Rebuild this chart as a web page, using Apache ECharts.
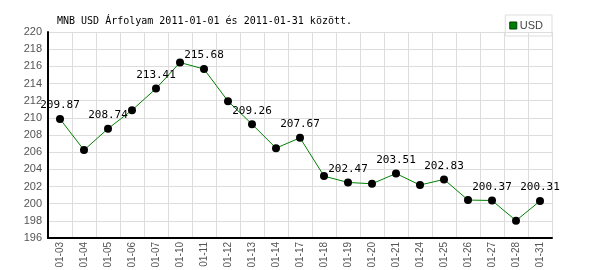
<!DOCTYPE html>
<html>
<head>
<meta charset="utf-8">
<script src="https://cdn.jsdelivr.net/npm/echarts@6/dist/echarts.min.js"></script>
<style>html,body{margin:0;padding:0;background:#fff}#c{width:600px;height:270px}</style>
</head>
<body>
<div id="c"></div>
<script>
const categories = ['01-03','01-04','01-05','01-06','01-07','01-10','01-11','01-12','01-13','01-14','01-17','01-18','01-19','01-20','01-21','01-24','01-25','01-26','01-27','01-28','01-31'];
const usdValues = [209.87,206.24,208.74,210.89,213.41,216.45,215.68,211.94,209.26,206.47,207.67,203.21,202.47,202.32,203.51,202.17,202.83,200.42,200.37,198.02,200.31];
const yTicks = {min:196, max:220, interval:2};
const titleText = 'MNB USD Árfolyam 2011-01-01 és 2011-01-31 között.';

const chart = echarts.init(document.getElementById('c'), null, {renderer:'canvas'});
chart.setOption({
  animation:false,
  title:{text:titleText, left:52, top:11, textStyle:{fontFamily:'DejaVu Sans Mono', fontSize:10, fontWeight:'normal', color:'#000'}},
  legend:{right:48, top:15, itemWidth:7, itemHeight:7, itemGap:0, padding:[5,9,5,4], borderColor:'#ddd', borderWidth:1, icon:'rect',
    textStyle:{fontFamily:'Liberation Sans', fontSize:11, color:'#444', padding:[0,0,0,-2]}, data:[{name:'USD', itemStyle:{color:'#008000', borderColor:'#004000', borderWidth:1}}]},
  grid:{left:48, right:48, top:32, bottom:32, outerBoundsMode:'none', containLabel:false},
  xAxis:{type:'category', data:categories, boundaryGap:true,
    axisLine:{lineStyle:{color:'#000', width:2}}, axisTick:{show:false},
    axisLabel:{rotate:90, interval:0, margin:4, color:'#555', fontFamily:'Liberation Sans', fontSize:10},
    splitLine:{show:true, interval:0, lineStyle:{color:'#ddd', width:1}}},
  yAxis:{type:'value', min:yTicks.min, max:yTicks.max, interval:yTicks.interval,
    axisLine:{show:true, lineStyle:{color:'#000', width:2}}, axisTick:{show:false},
    axisLabel:{margin:6, color:'#555', fontFamily:'Liberation Sans', fontSize:11},
    splitLine:{show:true, lineStyle:{color:'#ddd', width:1}}},
  series:[{name:'USD', type:'line', data:usdValues, symbol:'circle', symbolSize:8,
    lineStyle:{color:'#008000', width:1}, itemStyle:{color:'#000'},
    label:{show:true, position:'top', distance:4, color:'#000', fontFamily:'DejaVu Sans Mono', fontSize:11,
      formatter:(p)=> p.dataIndex % 2 === 0 ? p.value.toFixed(2) : ''}}]
});
</script>
</body>
</html>
